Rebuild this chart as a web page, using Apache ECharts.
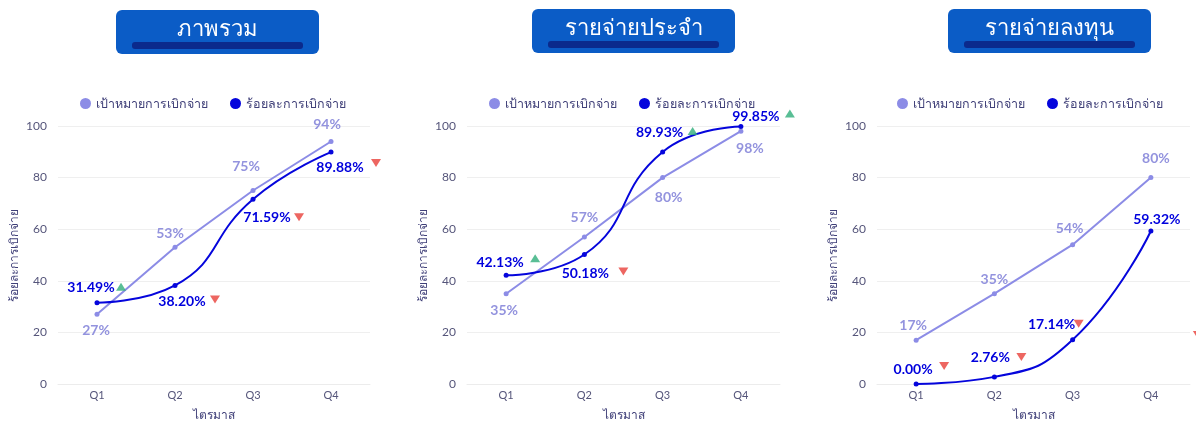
<!DOCTYPE html>
<html><head><meta charset="utf-8">
<script src="https://cdn.jsdelivr.net/npm/echarts@6/dist/echarts.min.js"></script>
<style>html,body{margin:0;padding:0;background:#fff}#c{width:1196px;height:421px}</style>
</head><body><div id="c"></div><script>
// ---- data ----
const quarters = ['Q1', 'Q2', 'Q3', 'Q4'];
const titles = ['ภาพรวม', 'รายจ่ายประจำ', 'รายจ่ายลงทุน'];
const legendNames = ['เป้าหมายการเบิกจ่าย', 'ร้อยละการเบิกจ่าย'];
const xAxisName = 'ไตรมาส';
const yAxisName = 'ร้อยละการเบิกจ่าย';
const yTicks = [0, 20, 40, 60, 80, 100];
const targetOverall = [27, 53, 75, 94];
const actualOverall = [31.49, 38.20, 71.59, 89.88];
const trendOverall = ['up', 'down', 'down', 'down'];
const targetRecurrent = [35, 57, 80, 98];
const actualRecurrent = [42.13, 50.18, 89.93, 99.85];
const trendRecurrent = ['up', 'down', 'up', 'up'];
const targetInvest = [17, 35, 54, 80];
const actualInvest = [0.00, 2.76, 17.14, 59.32];
const trendInvest = ['down', 'down', 'down', 'down'];

// ---- layout / style (not data) ----
const panels = [
  {target: targetOverall, actual: actualOverall, trend: trendOverall},
  {target: targetRecurrent, actual: actualRecurrent, trend: trendRecurrent},
  {target: targetInvest, actual: actualInvest, trend: trendInvest}
];
const gridPos = [{left: 58, width: 312}, {left: 467, width: 313}, {left: 877, width: 313}];
const legendLeft = [80, 489, 897];
const titlePos = [[116, 10], [532, 9], [948, 9]];
const targetOff = [[[-1,16],[-5,-14],[-7,-24],[-4,-17]], [[-2,17],[0,-19],[6,20],[9,17]], [[-3,-15],[0,-14],[-3,-16],[5,-19]]];
const actualOff = [[[-6,-15],[7,16],[14,18],[9,15]], [[-6,-13],[1,19],[-3,-19],[15,-10]], [[-3,-15],[-4,-19],[-21,-15],[6,-11]]];
const arrowOff = [[[24,-16],[40,14],[46,18],[45,11]], [[29,-17],[39,17],[30,-21],[49,-13]], [[28,-18],[27,-20],[6,-16],[47,104]]];

const FONT = 'Lato, "Noto Sans", sans-serif';
const TARGET_C = '#8c8ce6';
const ACTUAL_C = '#0505dc';
const UP = 'path://M5 0 L10 8 L0 8 Z';
const DOWN = 'path://M0 0 L10 0 L5 8 Z';

const grids = [], xAxes = [], yAxes = [], series = [], legends = [], graphics = [];
panels.forEach((p, i) => {
  grids.push({left: gridPos[i].left, width: gridPos[i].width, top: 126, bottom: 37, outerBoundsMode: 'none', containLabel: false});
  xAxes.push({
    type: 'category', gridIndex: i, data: quarters, boundaryGap: true,
    name: xAxisName, nameLocation: 'middle', nameGap: 25,
    nameTextStyle: {color: '#3f3f78', fontSize: 12, fontFamily: FONT},
    axisLine: {lineStyle: {color: '#ececec'}}, axisTick: {show: false},
    axisLabel: {color: '#55557a', fontSize: 11, margin: 6, fontFamily: FONT}
  });
  yAxes.push({
    type: 'value', gridIndex: i, min: yTicks[0], max: yTicks[yTicks.length - 1], interval: yTicks[1] - yTicks[0],
    name: yAxisName, nameLocation: 'middle', nameGap: 38,
    nameTextStyle: {color: '#3f3f78', fontSize: 12, fontFamily: FONT},
    axisLine: {show: false}, axisTick: {show: false},
    splitLine: {lineStyle: {color: '#efefef'}},
    axisLabel: {color: '#55557a', fontSize: 12, margin: 11, fontFamily: FONT}
  });
  series.push({
    name: legendNames[0], type: 'line', xAxisIndex: i, yAxisIndex: i, color: TARGET_C,
    symbol: 'circle', symbolSize: 5, showSymbol: true, lineStyle: {width: 2, color: TARGET_C},
    data: p.target.map((v, k) => ({value: v, label: {offset: targetOff[i][k]}})),
    label: {show: true, position: 'inside', color: '#9393de', fontWeight: 'bold', fontSize: 14, fontFamily: FONT,
      formatter: d => d.value + '%'},
    z: 3
  });
  series.push({
    name: legendNames[1], type: 'line', xAxisIndex: i, yAxisIndex: i, color: ACTUAL_C, smooth: 0.5,
    symbol: 'circle', symbolSize: 5, lineStyle: {width: 2, color: ACTUAL_C},
    data: p.actual.map((v, k) => ({value: v, label: {offset: actualOff[i][k]}})),
    label: {show: true, position: 'inside', color: '#0000dd', fontWeight: 'bold', fontSize: 14, fontFamily: FONT,
      formatter: d => d.value.toFixed(2) + '%'},
    z: 4
  });
  series.push({
    name: 'trend', type: 'scatter', xAxisIndex: i, yAxisIndex: i, clip: false, silent: true,
    data: p.actual.map((v, k) => ({
      value: v, symbol: p.trend[k] === 'up' ? UP : DOWN, symbolOffset: arrowOff[i][k],
      itemStyle: {color: p.trend[k] === 'up' ? '#2fae7a' : '#e8403a'}
    })),
    symbolSize: [10, 8], z: 5
  });
  legends.push({
    data: legendNames, left: legendLeft[i], top: 97, padding: 0, icon: 'circle', itemWidth: 11, itemHeight: 11, itemGap: 22,
    textStyle: {color: '#3f3f78', fontSize: 12.5, fontFamily: FONT}
  });
  graphics.push({
    type: 'group', x: titlePos[i][0], y: titlePos[i][1], children: [
      {type: 'rect', shape: {x: 0, y: 0, width: 203, height: 44, r: 6}, style: {fill: '#0b5cc6'}},
      {type: 'rect', shape: {x: 16, y: 32, width: 171, height: 7, r: 3}, style: {fill: '#0b2a8c'}},
      {type: 'text', x: 101.5, y: 19, style: {text: titles[i], fill: '#ffffff', font: '22px ' + FONT, align: 'center', verticalAlign: 'middle'}}
    ]
  });
});

const chart = echarts.init(document.getElementById('c'), null, {renderer: 'canvas'});
chart.setOption({
  animation: false, backgroundColor: '#ffffff',
  grid: grids, xAxis: xAxes, yAxis: yAxes, legend: legends, series: series, graphic: graphics
});
</script></body></html>
